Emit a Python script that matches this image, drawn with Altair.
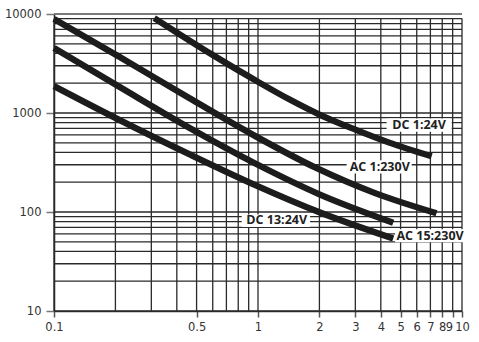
import altair as alt
import pandas as pd

# ---- data ----
series_names = ["DC 1:24V", "AC 1:230V", "DC 13:24V", "AC 15:230V"]
dc1_x = [0.31, 0.6, 0.97, 1.43, 2.0, 3.0, 4.4, 7.1]
dc1_y = [9100, 3850, 2140, 1366, 964, 679, 502, 365]
ac1_x = [0.1, 0.21, 0.46, 0.97, 1.94, 3.75, 7.5]
ac1_y = [8900, 3675, 1415, 584, 277, 155, 97]
dc13_x = [0.1, 0.21, 0.46, 0.97, 2.0, 4.6]
dc13_y = [4530, 1830, 710, 309, 151, 78]
ac15_x = [0.1, 0.21, 0.46, 0.97, 2.0, 4.6]
ac15_y = [1870, 848, 384, 187, 99.5, 54]

# label annotations (data units)
label_text = ["DC 1:24V", "AC 1:230V", "DC 13:24V", "AC 15:230V"]
label_x = [6.16, 3.95, 1.235, 6.97]
label_y = [755, 286, 82.6, 57.6]
box_x1 = [4.27, 2.72, 0.832, 4.7]
box_x2 = [8.9, 5.67, 1.8, 10.47]
box_y1 = [646, 245, 70.7, 49.5]
box_y2 = [882, 334, 94.4, 67]

x_ticks = [0.1, 0.5, 1, 2, 3, 4, 5, 6, 7, 8, 9, 10]
y_ticks = [10, 100, 1000, 10000]
x_grid = [0.1, 0.2, 0.3, 0.4, 0.5, 0.6, 0.7, 0.8, 0.9, 1, 2, 3, 4, 5, 6, 7, 8, 9, 10]
y_grid = [10, 20, 30, 40, 50, 60, 70, 80, 90,
          100, 200, 300, 400, 500, 600, 700, 800, 900,
          1000, 2000, 3000, 4000, 5000, 6000, 7000, 8000, 9000]

# ---- tables ----
rows = []
for name, xs_, ys_ in zip(series_names, [dc1_x, ac1_x, dc13_x, ac15_x], [dc1_y, ac1_y, dc13_y, ac15_y]):
    for xv, yv in zip(xs_, ys_):
        rows.append({"series": name, "x": xv, "y": yv})
curves = pd.DataFrame(rows)
labels = pd.DataFrame({"text": label_text, "x": label_x, "y": label_y,
                       "x1": box_x1, "x2": box_x2, "y1": box_y1, "y2": box_y2})
hgrid = pd.DataFrame({"y": y_grid})
vgrid = pd.DataFrame({"x": x_grid, "y1": [10] * len(x_grid), "y2": [9000] * len(x_grid)})
top = pd.DataFrame({"y": [10000]})

xs = alt.Scale(type="log", domain=[0.1, 10])
ys = alt.Scale(type="log", domain=[10, 10000])
x_axis = alt.Axis(values=x_ticks, format="~g", title=None, grid=False, labelOverlap=False,
                  labelFlush=False, tickSize=6, tickColor="#555", tickWidth=1.5,
                  domainColor="#333", domainWidth=1.5, labelFont="DejaVu Sans",
                  labelFontSize=11.5, labelColor="#333", labelPadding=4,
                  labelAlign={"condition": {"test": "datum.value == 9", "value": "right"},
                              "value": "center"})
y_axis = alt.Axis(values=y_ticks, format="d", title=None, grid=False, labelOverlap=False,
                  labelFlush=False, tickSize=8, tickColor="#777", tickWidth=1.5,
                  domainColor="#222", domainWidth=1.5, labelFont="DejaVu Sans",
                  labelFontSize=11.5, labelColor="#333", labelPadding=5)

h = alt.Chart(hgrid).mark_rule(color="#2a2a2a", strokeWidth=1.3).encode(
    y=alt.Y("y:Q", scale=ys, axis=y_axis))
v = alt.Chart(vgrid).mark_rule(color="#2a2a2a", strokeWidth=1.3).encode(
    x=alt.X("x:Q", scale=xs, axis=x_axis), y=alt.Y("y1:Q", scale=ys, axis=y_axis), y2="y2:Q")
t = alt.Chart(top).mark_rule(color="#7a7a7a", strokeWidth=2).encode(
    y=alt.Y("y:Q", scale=ys, axis=y_axis))
lines = alt.Chart(curves).mark_line(color="#1c1c1c", strokeWidth=6.3, strokeCap="butt",
                                    interpolate="monotone").encode(
    x=alt.X("x:Q", scale=xs, axis=x_axis), y=alt.Y("y:Q", scale=ys, axis=y_axis),
    detail="series:N")
boxes = alt.Chart(labels).mark_rect(color="white").encode(
    x=alt.X("x1:Q", scale=xs, axis=x_axis), x2="x2:Q",
    y=alt.Y("y1:Q", scale=ys, axis=y_axis), y2="y2:Q")
texts = alt.Chart(labels).mark_text(font="Open Sans", fontWeight="bold", fontSize=12.5,
                                    color="#222").encode(
    x=alt.X("x:Q", scale=xs, axis=x_axis), y=alt.Y("y:Q", scale=ys, axis=y_axis), text="text:N")

chart = alt.layer(h, v, t, lines, boxes, texts).properties(
    width=408, height=297,
    autosize=alt.AutoSizeParams(type="none"),
    padding={"left": 54, "top": 14, "right": 17, "bottom": 31},
    background="white",
).configure_view(stroke=None)

chart.save("out.html", embed_options={"renderer": "svg", "actions": False})
